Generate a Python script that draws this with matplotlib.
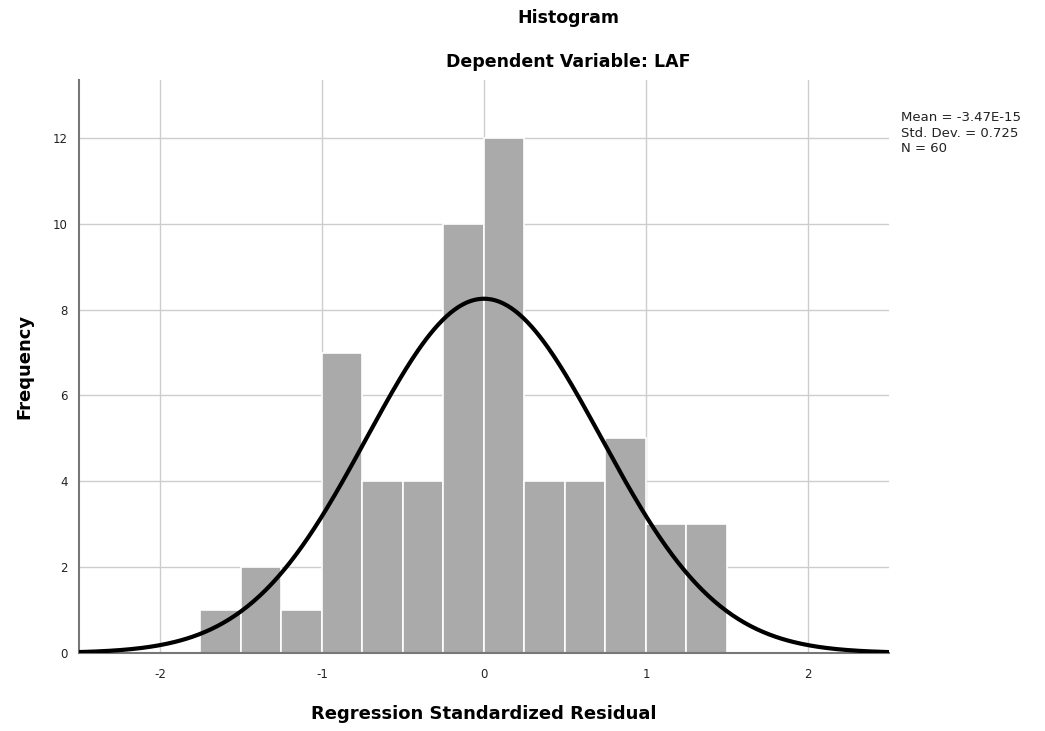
import numpy as np
import matplotlib
matplotlib.use('Agg')
import matplotlib.pyplot as plt

# histogram data (bin edges and counts)
bin_edges = [-1.75, -1.5, -1.25, -1.0, -0.75, -0.5, -0.25, 0.0, 0.25, 0.5, 0.75, 1.0, 1.25, 1.5]
counts = [1, 2, 1, 7, 4, 4, 10, 12, 4, 4, 5, 3, 3]
mean_val = -3.47e-15
std_val = 0.725
n_val = 60

plt.rcParams['font.family'] = ['DejaVu Sans']

fig = plt.figure(figsize=(10.45, 7.31), dpi=100)
ax = fig.add_axes([0.0756, 0.1067, 0.7751, 0.7839])

width = bin_edges[1] - bin_edges[0]
ax.bar(bin_edges[:-1], counts, width=width, align='edge', color='#aaaaaa',
       edgecolor='white', linewidth=1.2, zorder=2)

# fitted normal curve from the reported mean / sd / N
xs = np.linspace(-2.5, 2.5, 400)
ys = n_val * width / (std_val * np.sqrt(2 * np.pi)) * np.exp(-0.5 * ((xs - mean_val) / std_val) ** 2)
ax.plot(xs, ys, color='black', linewidth=3, zorder=3)

ax.set_xlim(-2.5, 2.5)
ax.set_ylim(0, 13.35)
ax.set_xticks([-2, -1, 0, 1, 2])
ax.set_xticklabels(['-2', '-1', '0', '1', '2'])
ax.set_yticks([0, 2, 4, 6, 8, 10, 12])
ax.tick_params(axis='x', length=0, labelsize=8.5, colors='#222222', pad=11)
ax.tick_params(axis='y', length=0, labelsize=8.5, colors='#222222', pad=8)
ax.grid(True, color='#cdcdcd', linewidth=1.0, zorder=0)
ax.set_axisbelow(True)
for s in ['top', 'right']:
    ax.spines[s].set_visible(False)
for s in ['left', 'bottom']:
    ax.spines[s].set_color('#777777')
    ax.spines[s].set_linewidth(1.5)

ax.set_xlabel('Regression Standardized Residual', fontsize=13, fontweight='bold', labelpad=17)
ax.set_ylabel('Frequency', fontsize=13, fontweight='bold', labelpad=14)

fig.text(0.5435, 0.975, 'Histogram', ha='center', va='center', fontsize=12.5, fontweight='bold')
fig.text(0.5435, 0.915, 'Dependent Variable: LAF', ha='center', va='center', fontsize=12.5, fontweight='bold')

fig.text(0.862, 0.848, 'Mean = -3.47E-15\nStd. Dev. = 0.725\nN = 60',
         ha='left', va='top', fontsize=9.5, linespacing=1.25, color='#222222')

fig.savefig('out.png', dpi=100)
